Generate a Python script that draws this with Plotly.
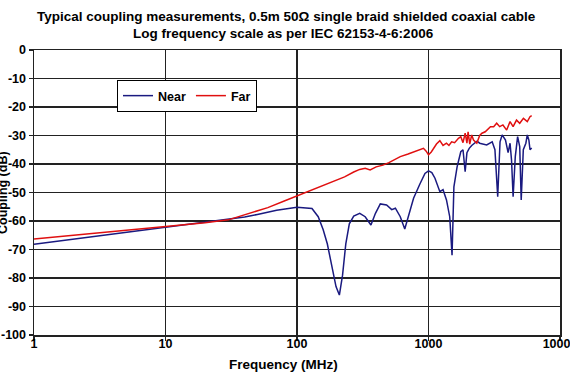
import plotly.graph_objects as go

# ---- data ----
near_freq = [1, 2, 5, 10, 20, 30, 40, 50, 70, 100, 130, 145, 158, 170, 185, 198, 210, 222, 235, 250,
             270, 300, 330, 365, 395, 430, 480, 525, 560, 610, 660, 700, 770, 860, 940, 1000, 1060,
             1120, 1220, 1290, 1370, 1450, 1510, 1560, 1650, 1760, 1830, 1900, 1960, 2040, 2130,
             2340, 2450, 2770, 3050, 3200, 3360, 3500, 3630, 3850, 4030, 4170, 4280, 4400, 4570,
             4760, 4940, 5070, 5260, 5500, 5640, 5800, 5915, 6090]
near_db = [-68.2, -66.4, -63.9, -62.2, -60.5, -59.5, -58.6, -57.7, -56.2, -55.2, -55.6, -58.5, -63,
           -68, -76, -83, -86, -79, -68, -61, -58.3, -57.3, -58.5, -61.4, -57.3, -54, -54.4, -56,
           -55.5, -58.5, -62.8, -58.5, -52, -47, -43.3, -42.4, -43, -45, -49.7, -49, -52.6, -58.5,
           -72, -48, -41, -35.7, -35, -42.7, -36, -34.5, -33.5, -32, -32.7, -33.3, -32.2, -35,
           -51.5, -32.2, -29.8, -31.6, -36, -32.7, -38.6, -51.5, -37.4, -30.4, -33.9, -52.6, -35,
           -32.7, -29.8, -31.6, -35, -34.4]

far_freq = [1, 2, 5, 10, 20, 30, 44, 60, 80, 100, 130, 160, 190, 230, 270, 300, 330, 360, 400, 450,
            500, 610, 700, 770, 850, 915, 960, 1000, 1050, 1090, 1150, 1220, 1290, 1370, 1430, 1500,
            1580, 1690, 1760, 1830, 1900, 1960, 2000, 2060, 2130, 2200, 2330, 2450, 2550, 2700,
            2850, 2960, 3130, 3300, 3480, 3680, 3930, 4170, 4400, 4670, 4940, 5270, 5640, 5915, 6090]
far_db = [-66.3, -65.0, -63.4, -62.1, -60.6, -59.6, -57.3, -55.3, -53, -51.2, -49, -47.4, -46.2,
          -44.5, -42.8, -41.9, -41.5, -42.1, -41, -40.4, -39.5, -37.4, -36.5, -35.7, -35, -34.5,
          -35.5, -36.8, -35.8, -34.5, -33, -31.8, -33.5, -32.7, -33.5, -32.2, -32.5, -31, -30.4,
          -32.5, -29.2, -32.7, -28.7, -33, -29.8, -31.6, -32.7, -30, -29.2, -28.7, -27.5, -26.9,
          -26.9, -25.7, -26.9, -26.3, -28.1, -25.1, -26.9, -24.6, -25.7, -24, -25.1, -23.4, -23]

x_tickvals = [1, 10, 100, 1000, 10000]
x_ticktext = ["1", "10", "100", "1000", "10000"]
y_tickvals = [0, -10, -20, -30, -40, -50, -60, -70, -80, -90, -100]
y_ticktext = ["0", "-10", "-20", "-30", "-40", "-50", "-60", "-70", "-80", "-90", "-100"]

title_line1 = "Typical coupling measurements, 0.5m 50Ω single braid shielded coaxial cable"
title_line2 = "Log frequency scale as per IEC 62153-4-6:2006"
x_title = "Frequency (MHz)"
y_title = "Coupling (dB)"

FONT = "Liberation Sans, Arial, sans-serif"

fig = go.Figure()
fig.add_trace(go.Scatter(x=near_freq, y=near_db, mode="lines", name="Near",
                         line=dict(color="#1a1a80", width=1.5)))
fig.add_trace(go.Scatter(x=far_freq, y=far_db, mode="lines", name="Far",
                         line=dict(color="#e01010", width=1.5)))

L, R, T, B = 34, 10, 50, 45
W, H = 570, 380
pw = W - L - R
ph = H - T - B

axis_common = dict(showline=True, linecolor="#222", linewidth=1.5, mirror=True,
                   showgrid=True, gridcolor="#222", gridwidth=1.3, zeroline=False,
                   ticks="outside", ticklen=4, tickcolor="#222", tickwidth=1.3,
                   automargin=False, ticklabeloverflow="allow",
                   tickfont=dict(family=FONT, size=12.5, color="black", weight="bold"))

fig.update_layout(
    width=W, height=H,
    margin=dict(l=L, r=R, t=T, b=B, autoexpand=False),
    paper_bgcolor="white", plot_bgcolor="white",
    showlegend=True,
    legend=dict(orientation="h", x=(117 - L) / pw, y=(H - B - 80) / ph,
                xanchor="left", yanchor="top", bgcolor="white",
                bordercolor="black", borderwidth=1,
                font=dict(family=FONT, size=12.5, color="black", weight="bold"),
                itemwidth=30, tracegroupgap=0),
    xaxis=dict(type="log", range=[0, 4], tickvals=x_tickvals, ticktext=x_ticktext,
               ticklabelstandoff=-8, **axis_common),
    yaxis=dict(range=[-100, 0], tickvals=y_tickvals, ticktext=y_ticktext, **axis_common),
    hovermode=False,
)

fig.add_annotation(text=title_line1, xref="paper", yref="paper",
                   x=(286 - L) / pw, y=(H - B - 16.7) / ph, xanchor="center", yanchor="middle",
                   showarrow=False, font=dict(family=FONT, size=13.5, color="black", weight="bold"))
fig.add_annotation(text=title_line2, xref="paper", yref="paper",
                   x=(283 - L) / pw, y=(H - B - 33.5) / ph, xanchor="center", yanchor="middle",
                   showarrow=False, font=dict(family=FONT, size=13.5, color="black", weight="bold"))
fig.add_annotation(text=x_title, xref="paper", yref="paper",
                   x=(283 - L) / pw, y=(H - B - 364) / ph, xanchor="center", yanchor="middle",
                   showarrow=False, font=dict(family=FONT, size=13.5, color="black", weight="bold"))
fig.add_annotation(text=y_title, xref="paper", yref="paper", textangle=-90,
                   x=(3 - L) / pw, y=(H - B - 193) / ph, xanchor="center", yanchor="middle",
                   showarrow=False, font=dict(family=FONT, size=12.5, color="black", weight="bold"))

fig.write_html("out.html", config={"displayModeBar": False, "staticPlot": True},
               post_script="document.body.style.margin='0';document.body.style.overflow='hidden';")
